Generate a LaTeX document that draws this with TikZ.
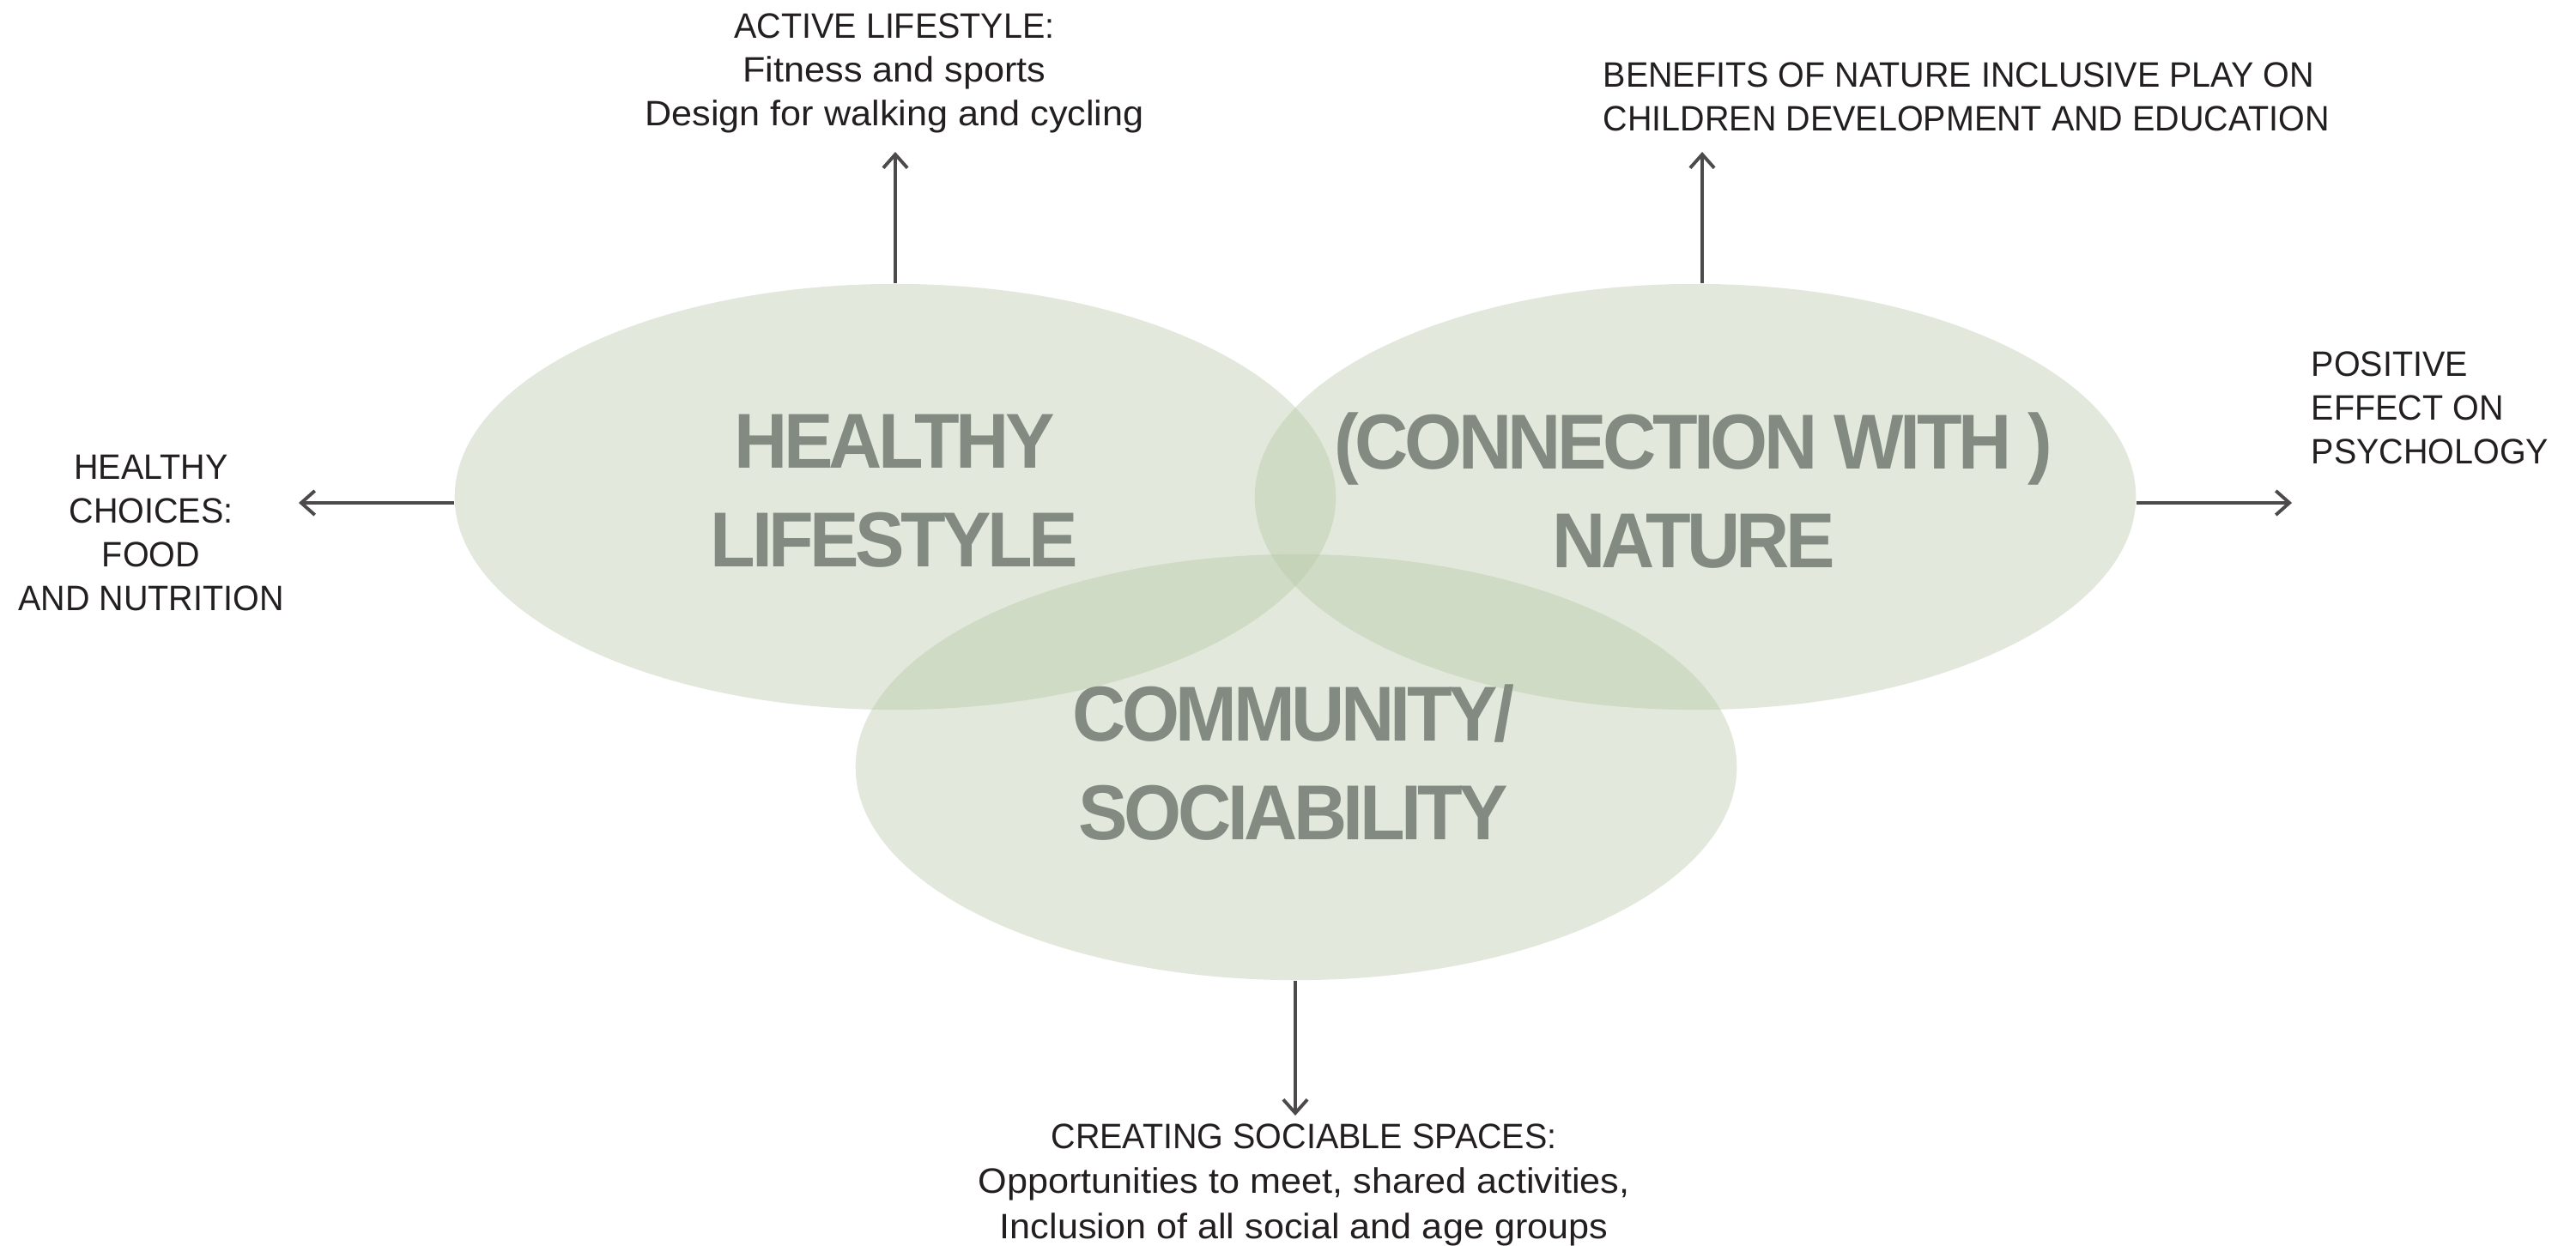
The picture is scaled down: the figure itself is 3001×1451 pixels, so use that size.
\documentclass[tikz,border=0pt]{standalone}
\usepackage{fontspec}
\setmainfont{Liberation Sans}
\newfontface\circlefont[FakeStretch=0.95, LetterSpace=-5]{Liberation Sans Bold}
\newfontface\capsfont[FakeStretch=0.96]{Liberation Sans}
\newfontface\lowfont[FakeStretch=1.05]{Liberation Sans}
\usetikzlibrary{shapes.geometric,arrows.meta}

\definecolor{venn}{RGB}{179,197,163}
\definecolor{bigtext}{RGB}{130,138,130}
\definecolor{arrowgray}{RGB}{77,74,75}
\definecolor{ink}{RGB}{35,31,32}

\tikzset{
  vennset/.style={ellipse, draw=none, fill=venn, fill opacity=0.38,
    minimum width=10.26cm, minimum height=4.96cm, inner sep=0pt},
  title/.style={inner sep=0pt, anchor=north, align=center, text=bigtext,
    font=\fontsize{25.8}{32.7}\selectfont\circlefont},
  note/.style={inner sep=0pt, text=ink,
    font=\fontsize{11.7}{14.5}\selectfont\capsfont},
  link/.style={draw=arrowgray, line width=1.1pt,
    -{Straight Barb[length=4.5pt,width=8pt]}}
}

\begin{document}
\begin{tikzpicture}[x=0.01cm, y=-0.01cm]
  \useasboundingbox (0,0) rectangle (3001,1451);

  % the three overlapping sets
  \node[vennset] (hl) at (1043,579) {};
  \node[vennset] (cn) at (1975,579) {};
  \node[vennset] (cs) at (1510,894) {};

  % set titles
  \node[title] (hlt) at (1042,482) {HEALTHY\\LIFESTYLE};
  \node[title] (cnt) at (1973,480) {(CONNECTION WITH )\\NATURE};
  \node[title] (cst) at (1507,797) {COMMUNITY/\\SOCIABILITY};

  % outer notes
  \node[note, anchor=north, align=center] (active) at (1042,15)
    {ACTIVE LIFESTYLE:\\{\lowfont Fitness and sports}\\{\lowfont Design for walking and cycling}};
  \node[note, anchor=north west, align=left] (benefits) at (1867,72)
    {BENEFITS OF NATURE INCLUSIVE PLAY ON\\CHILDREN DEVELOPMENT AND EDUCATION};
  \node[note, anchor=north, align=center] (choices) at (176,529)
    {HEALTHY\\CHOICES:\\FOOD\\AND NUTRITION};
  \node[note, anchor=north west, align=left] (psych) at (2692,409)
    {POSITIVE\\EFFECT ON\\PSYCHOLOGY};
  \node[note, anchor=north, align=center,
        font=\fontsize{11.7}{14.9}\selectfont\capsfont] (social) at (1519,1309)
    {CREATING SOCIABLE SPACES:\\{\lowfont Opportunities to meet, shared activities,}\\{\lowfont Inclusion of all social and age groups}};

  % arrow ends
  \coordinate (tA) at (1043,177);
  \coordinate (tB) at (1983,177);
  \coordinate (tC) at (348,586);
  \coordinate (tD) at (2670,586);
  \coordinate (tE) at (1509,1300);

  \draw[link] (hl.north) -- (tA);
  \draw[link] (cn.north -| tB) -- (tB);
  \draw[link] (hl.west |- tC) -- (tC);
  \draw[link] (cn.east |- tD) -- (tD);
  \draw[link] (cs.south -| tE) -- (tE);
\end{tikzpicture}
\end{document}
